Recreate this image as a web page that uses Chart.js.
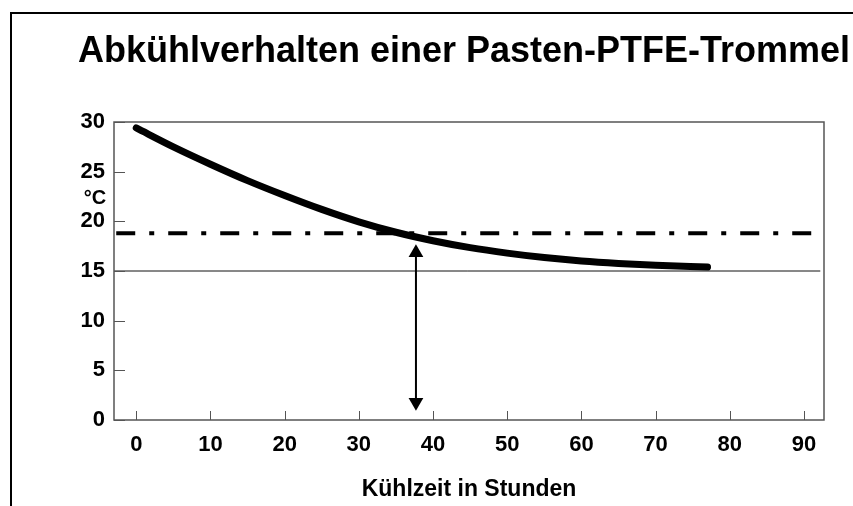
<!DOCTYPE html>
<html>
<head>
<meta charset="utf-8">
<script src="https://cdn.jsdelivr.net/npm/chart.js@4.4.1/dist/chart.umd.min.js"></script>
<style>
  body { margin: 0; background: #fff; }
  #wrap { position: relative; width: 853px; height: 506px; overflow: hidden; }
  #frame { position: absolute; left: 10px; top: 12px; width: 1000px; height: 1000px;
           border-left: 2px solid #000; border-top: 2px solid #000; }
  #chart { position: absolute; left: 0; top: 0; }
</style>
</head>
<body>
<div id="wrap">
  <div id="frame"></div>
  <canvas id="chart" width="853" height="506"></canvas>
</div>
<script>
// Abkühlkurve
let stunden = [0, 5, 10, 15, 20, 25, 30, 35, 40, 45, 50, 55, 60, 65, 70, 77];
let temperatur = [29.4, 27.5, 25.75, 24.1, 22.6, 21.2, 19.95, 18.9, 18.05, 17.35, 16.8, 16.35, 16.0, 15.75, 15.57, 15.4];

// Hilfslinien
let grenzeX = [-2.7, 91.6];
let grenzeY = [18.8, 18.8];
let basisX = [-3, 92.2];
let basisY = [15, 15];
let pfeilX = [37.7, 37.7];
let pfeilY = [16.83, 1.79];

let xTicks = [0, 10, 20, 30, 40, 50, 60, 70, 80, 90];
let yTicks = [0, 5, 10, 15, 20, 25, 30];

const FONT = "'Liberation Sans', Arial, sans-serif";

const toXY = (xs, ys) => xs.map((x, i) => ({ x: x, y: ys[i] }));

// Rahmen, Ticks nach innen, Einheit
const rahmen = {
  id: 'rahmen',
  afterDraw(chart) {
    const ctx = chart.ctx;
    const a = chart.chartArea;
    const sx = chart.scales.x, sy = chart.scales.y;
    ctx.save();
    ctx.strokeStyle = '#555';
    ctx.lineWidth = 1.5;
    ctx.strokeRect(a.left, a.top, a.right - a.left, a.bottom - a.top);
    ctx.beginPath();
    xTicks.forEach(v => {
      const px = Math.round(sx.getPixelForValue(v)) + 0.5;
      ctx.moveTo(px, a.bottom);
      ctx.lineTo(px, a.bottom - 9);
    });
    yTicks.forEach(v => {
      const py = Math.round(sy.getPixelForValue(v)) + 0.5;
      ctx.moveTo(a.left, py);
      ctx.lineTo(a.left + 11, py);
    });
    ctx.lineWidth = 1;
    ctx.stroke();
    ctx.fillStyle = '#000';
    ctx.font = 'bold 20px ' + FONT;
    ctx.textAlign = 'center';
    ctx.textBaseline = 'middle';
    ctx.fillText('°C', 95, 198);
    ctx.restore();
  }
};

new Chart(document.getElementById('chart'), {
  type: 'scatter',
  data: {
    datasets: [
      {
        label: 'Temperatur',
        data: toXY(stunden, temperatur),
        showLine: true,
        borderColor: '#000',
        borderWidth: 7,
        borderCapStyle: 'round',
        cubicInterpolationMode: 'monotone',
        pointRadius: 0
      },
      {
        label: 'Pfeil',
        data: toXY(pfeilX, pfeilY),
        showLine: true,
        borderColor: '#000',
        borderWidth: 2,
        pointStyle: 'triangle',
        pointRadius: 8.5,
        pointRotation: [0, 180],
        pointBackgroundColor: '#000',
        pointBorderColor: '#000',
        pointBorderWidth: 0
      },
      {
        label: 'Grenze',
        data: toXY(grenzeX, grenzeY),
        showLine: true,
        borderColor: '#000',
        borderWidth: 4,
        borderDash: [19, 14, 5, 14],
        borderCapStyle: 'butt',
        pointRadius: 0
      },
      {
        label: 'Basis',
        data: toXY(basisX, basisY),
        showLine: true,
        borderColor: '#111',
        borderWidth: 1,
        pointRadius: 0
      }
    ]
  },
  options: {
    responsive: false,
    animation: false,
    layout: { padding: { left: 75, right: 0, top: 0, bottom: 0 } },
    plugins: {
      legend: { display: false },
      tooltip: { enabled: false },
      title: {
        display: true,
        text: 'Abkühlverhalten einer Pasten-PTFE-Trommel',
        color: '#000',
        font: { family: FONT, size: 36, weight: 'bold' },
        padding: { top: 30, bottom: 48.8 }
      }
    },
    scales: {
      x: {
        type: 'linear',
        min: -3,
        max: 92.7,
        afterBuildTicks: s => { s.ticks = xTicks.map(v => ({ value: v })); },
        afterFit: s => { s.height = 86; },
        grid: { display: false },
        border: { display: false },
        ticks: { color: '#000', padding: 4, font: { family: FONT, size: 22, weight: 'bold' } },
        title: {
          display: true,
          text: 'Kühlzeit in Stunden',
          color: '#000',
          font: { family: FONT, size: 23, weight: 'bold' },
          padding: { top: 0, bottom: 3 }
        }
      },
      y: {
        min: 0,
        max: 30,
        afterBuildTicks: s => { s.ticks = yTicks.map(v => ({ value: v })); },
        afterFit: s => { s.width = 39; },
        grid: { display: false },
        border: { display: false },
        ticks: { color: '#000', padding: 1, font: { family: FONT, size: 22, weight: 'bold' } }
      },
      rechts: {
        position: 'right',
        min: 0,
        max: 30,
        afterFit: s => { s.width = 29; },
        grid: { display: false },
        border: { display: false },
        ticks: { display: false }
      }
    }
  },
  plugins: [rahmen]
});
</script>
</body>
</html>
